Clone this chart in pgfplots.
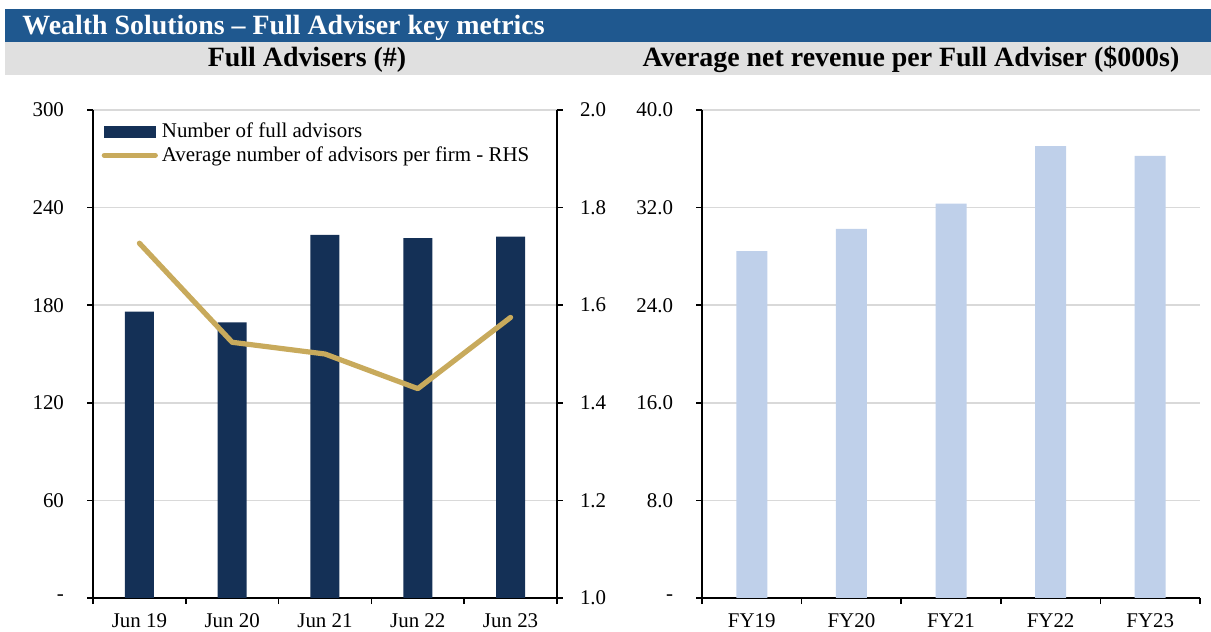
\documentclass[border=0pt]{standalone}
\usepackage{fontspec}
\setmainfont{Liberation Serif}
\usepackage{pgfplots}
\pgfplotsset{compat=1.18}

\definecolor{titleblue}{RGB}{31,88,143}
\definecolor{bandgray}{RGB}{224,224,224}
\definecolor{navy}{RGB}{20,48,86}
\definecolor{gold}{RGB}{200,170,92}
\definecolor{lightblue}{RGB}{191,208,234}
\definecolor{gridgray}{RGB}{217,217,217}

\pgfplotsset{
  panel/.style={
    scale only axis, height=244bp,
    anchor=south west,
    font=\fontsize{10.5}{12}\selectfont,
    xmin=0.5, xmax=5.5,
    axis line style={-, black, line width=0.75bp},
    tick style={black, line width=0.75bp},
    major tick length=3bp, minor tick length=3bp,
    tick align=outside,
    xtick={1,...,5},
    minor xtick={0.5,1.5,...,5.5},
    major x tick style={draw=none},
    xticklabel shift=4.5bp,
    xticklabel style={inner ysep=0pt, text depth=0pt},
    grid style={gridgray, line width=0.75bp},
  },
}

\begin{document}
\begin{tikzpicture}
\useasboundingbox (0,0) rectangle (605.5bp,316bp);
% header bands
\fill[titleblue] (2.5bp,295.2bp) rectangle (605.5bp,311.5bp);
\fill[bandgray] (2.5bp,278.5bp) rectangle (605.5bp,295.2bp);
\node[anchor=base west, text=white, font=\fontsize{14}{16}\selectfont\bfseries, inner sep=0pt]
  at (11bp,298.5bp) {Wealth Solutions – Full Adviser key metrics};
\node[anchor=base, font=\fontsize{14}{16}\selectfont\bfseries, inner sep=0pt]
  at (153.5bp,282.7bp) {Full Advisers (\#)};
\node[anchor=base, font=\fontsize{14}{16}\selectfont\bfseries, inner sep=0pt]
  at (455.5bp,282.7bp) {Average net revenue per Full Adviser (\$000s)};

% left panel: bars
\begin{axis}[panel, at={(46.5bp,17bp)}, width=232bp,
  ymin=0, ymax=300,
  axis x line*=bottom, axis y line*=left,
  xticklabels={Jun 19,Jun 20,Jun 21,Jun 22,Jun 23},
  ytick={0,60,...,300}, yticklabels={-,60,120,180,240,300},
  yticklabel shift=8bp,
  ymajorgrids,
  ybar, bar width=14.5bp,
]
\addplot[fill=navy, draw=none] coordinates {(1,176.1) (2,169.4) (3,223.3) (4,221.2) (5,222.2)};
\end{axis}

% left panel: line on right axis
\begin{axis}[panel, at={(46.5bp,17bp)}, width=232bp,
  ymin=1, ymax=2,
  hide x axis,
  axis y line*=right,
  ytick={1,1.2,...,2.0}, yticklabels={1.0,1.2,1.4,1.6,1.8,2.0},
  yticklabel shift=5bp,
  legend style={at={(0.005,0.991)}, anchor=north west, draw=none, fill=none,
    font=\fontsize{10.5}{12}\selectfont, row sep=-1bp,
    nodes={inner xsep=2bp}},
  legend cell align=left,
]
\addlegendimage{legend image code/.code={\fill[navy] (0bp,-2.7bp) rectangle (25.5bp,2.7bp);}}
\addplot[gold, line width=2.6bp, line join=round, line cap=round,
  legend image code/.code={\draw[gold, line width=2.6bp, line cap=round] (0bp,0bp) -- (25.5bp,0bp);}]
  coordinates {(1,1.727) (2,1.524) (3,1.500) (4,1.429) (5,1.575)};
\legend{Number of full advisors, Average number of advisors per firm - RHS}
\end{axis}

% right panel
\begin{axis}[panel, at={(351bp,17bp)}, width=249bp,
  ymin=0, ymax=40,
  axis x line*=bottom, axis y line*=left,
  xticklabels={FY19,FY20,FY21,FY22,FY23},
  ytick={0,8,...,40}, yticklabels={-,8.0,16.0,24.0,32.0,40.0},
  yticklabel shift=8bp,
  ymajorgrids,
  ybar, bar width=15.5bp,
]
\addplot[fill=lightblue, draw=none] coordinates {(1,28.43) (2,30.26) (3,32.33) (4,37.04) (5,36.24)};
\end{axis}
\end{tikzpicture}
\end{document}
